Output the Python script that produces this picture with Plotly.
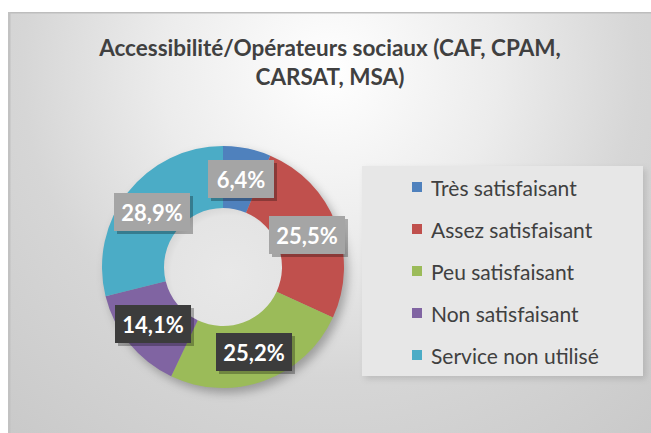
import base64
import math
import plotly.graph_objects as go

# Survey answers and their shares (%)
categories = ["Très satisfaisant", "Assez satisfaisant", "Peu satisfaisant",
              "Non satisfaisant", "Service non utilisé"]
shares = [6.4, 25.5, 25.2, 14.1, 28.9]
share_labels = ["6,4%", "25,5%", "25,2%", "14,1%", "28,9%"]
colors = ["#4f81bd", "#c0504d", "#9bbb59", "#8064a2", "#4bacc6"]
label_fills = ["#a5a5a5", "#a5a5a5", "#3c3c3c", "#3c3c3c", "#a5a5a5"]

W, H = 651, 433
CX, CY, R_OUT, R_IN = 223, 267, 121, 59
FONT = "Lato"

# Background panel: radial grey gradient, donut shadow, hole fill, legend panel
svg = f"""<svg xmlns='http://www.w3.org/2000/svg' width='{W}' height='{H}' viewBox='0 0 {W} {H}'>
<defs>
<radialGradient id='bg' gradientUnits='userSpaceOnUse' cx='330' cy='70' r='560'>
<stop offset='0' stop-color='#ffffff'/>
<stop offset='0.3' stop-color='#ececec'/>
<stop offset='0.55' stop-color='#d6d6d6'/>
<stop offset='1' stop-color='#c4c4c4'/>
</radialGradient>
<radialGradient id='hole' cx='0.55' cy='0.55' r='0.6'>
<stop offset='0' stop-color='#e8e8e8'/>
<stop offset='0.8' stop-color='#e4e4e4'/>
<stop offset='1' stop-color='#cfcfcf'/>
</radialGradient>
<filter id='blur' x='-20%' y='-20%' width='140%' height='140%'><feGaussianBlur stdDeviation='5'/></filter>
<filter id='blur2' x='-20%' y='-20%' width='140%' height='140%'><feGaussianBlur stdDeviation='3'/></filter>
</defs>
<rect x='0' y='0' width='{W}' height='{H}' fill='#ffffff'/>
<rect x='8' y='12' width='{W-8}' height='{H-12}' fill='url(#bg)'/>
<rect x='8' y='12' width='{W-8}' height='1.5' fill='#bdbdbd'/>
<rect x='8' y='12' width='2.5' height='{H-12}' fill='#c2c2c2'/>
<circle cx='{CX+4}' cy='{CY+5}' r='{R_OUT}' fill='rgba(0,0,0,0.28)' filter='url(#blur)'/>
<circle cx='{CX}' cy='{CY}' r='{R_IN+1}' fill='url(#hole)'/>
<rect x='365' y='169' width='281' height='210' fill='rgba(0,0,0,0.12)' filter='url(#blur2)'/>
<rect x='362' y='166' width='281' height='210' fill='#e7e7e7'/>
</svg>"""
svg_uri = "data:image/svg+xml;base64," + base64.b64encode(svg.encode("utf-8")).decode()

fig = go.Figure(go.Pie(
    labels=categories,
    values=shares,
    marker=dict(colors=colors, line=dict(width=0)),
    hole=R_IN / R_OUT,
    sort=False,
    direction="clockwise",
    rotation=0,
    textinfo="none",
    hoverinfo="label+percent",
    showlegend=False,
    domain=dict(x=[(CX - R_OUT) / W, (CX + R_OUT) / W],
                y=[1 - (CY + R_OUT) / H, 1 - (CY - R_OUT) / H]),
))

# Data labels placed at the middle of each ring segment, each with a drop shadow
annotations = []
total = sum(shares)
cum = 0.0
r_mid = (R_OUT + R_IN) / 2
for val, txt, fill in zip(shares, share_labels, label_fills):
    ang = 2 * math.pi * (cum + val / 2) / total
    cum += val
    px = CX + r_mid * math.sin(ang)
    py = CY - r_mid * math.cos(ang)
    box_w = 10 * len(txt) + 14
    common = dict(x=px / W, y=1 - py / H, xref="paper", yref="paper",
                  showarrow=False, width=box_w, height=26, borderpad=6,
                  borderwidth=0, xanchor="center", yanchor="middle")
    annotations.append(dict(common, text="&nbsp;", bgcolor="rgba(0,0,0,0.28)",
                            xshift=3, yshift=-3,
                            font=dict(family=FONT, size=22, color="rgba(0,0,0,0)")))
    annotations.append(dict(common, text=txt, bgcolor=fill,
                            font=dict(family=FONT, size=22, color="#ffffff",
                                      weight="bold")))

# Legend entries
shapes = []
LEG_X, LEG_Y0, LEG_DY = 412, 187, 42
for i, (cat, col) in enumerate(zip(categories, colors)):
    y = LEG_Y0 + i * LEG_DY
    shapes.append(dict(type="rect", xref="paper", yref="paper",
                       x0=LEG_X / W, x1=(LEG_X + 10) / W,
                       y0=1 - (y + 5) / H, y1=1 - (y - 5) / H,
                       fillcolor=col, line=dict(width=0)))
    annotations.append(dict(x=(LEG_X + 17) / W, y=1 - y / H, xref="paper", yref="paper",
                            showarrow=False, text=cat, xanchor="left", yanchor="middle",
                            font=dict(family=FONT, size=21, color="#404040")))

fig.update_layout(
    width=W, height=H,
    margin=dict(l=0, r=0, t=0, b=0),
    paper_bgcolor="#ffffff",
    plot_bgcolor="rgba(0,0,0,0)",
    title=dict(text="<b>Accessibilité/Opérateurs sociaux (CAF, CPAM,<br>CARSAT, MSA)</b>",
               x=330 / W, xanchor="center", y=1 - 56 / H, yanchor="top",
               font=dict(family=FONT, size=22.5, color="#404040")),
    images=[dict(source=svg_uri, xref="paper", yref="paper", x=0, y=1,
                 sizex=1, sizey=1, xanchor="left", yanchor="top",
                 sizing="stretch", layer="below")],
    annotations=annotations,
    shapes=shapes,
)

fig.write_html("out.html")
